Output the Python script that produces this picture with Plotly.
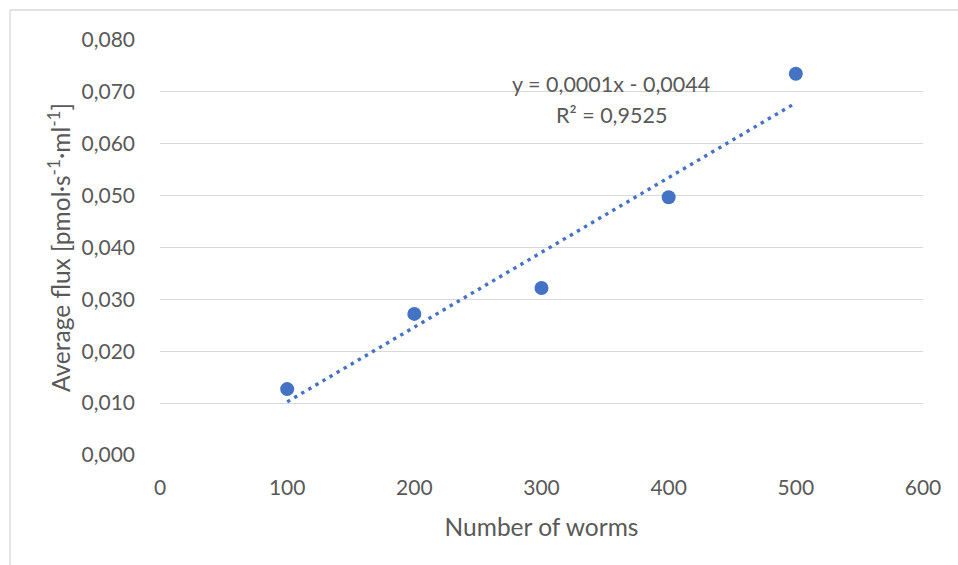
import numpy as np
import plotly.graph_objects as go

# Data
worms = [100, 200, 300, 400, 500]
flux = [0.0127, 0.0272, 0.0322, 0.0497, 0.0735]
x_ticks = [0, 100, 200, 300, 400, 500, 600]
y_ticks = [0.0, 0.01, 0.02, 0.03, 0.04, 0.05, 0.06, 0.07, 0.08]
eq_text = "y = 0,0001x - 0,0044"
r2_text = "R² = 0,9525"

BLUE = "#4472C4"
GREY = "#595959"
GRID = "#D9D9D9"
FONT = "Lato, Open Sans, sans-serif"

slope, intercept = np.polyfit(worms, flux, 1)
trend_x = [min(worms), max(worms)]
trend_y = [slope * v + intercept for v in trend_x]

fig = go.Figure()
fig.add_trace(go.Scatter(
    x=trend_x, y=trend_y, mode="lines",
    line=dict(color=BLUE, width=3.4, dash="3.4px,4.8px"),
    showlegend=False, hoverinfo="skip"))
fig.add_trace(go.Scatter(
    x=worms, y=flux, mode="markers",
    marker=dict(color=BLUE, size=14, line=dict(width=0)),
    showlegend=False))

fig.add_annotation(
    x=355, y=0.0716, xref="x", yref="y",
    text=eq_text, showarrow=False,
    font=dict(family=FONT, size=21.5, color=GREY))
fig.add_annotation(
    x=355, y=0.0655, xref="x", yref="y",
    text=r2_text, showarrow=False,
    font=dict(family=FONT, size=21.5, color=GREY))

W, H = 958, 565
L, R, T, B = 160, 35, 40, 110
pw, ph = W - L - R, H - T - B

def px_x(p):
    return (p - L) / pw

def px_y(p):
    return (H - B - p) / ph

# outer chart frame (partially visible)
fig.add_shape(type="line", xref="paper", yref="paper",
              x0=px_x(10), y0=px_y(10), x1=px_x(960), y1=px_y(10),
              line=dict(color=GRID, width=1.3))
fig.add_shape(type="line", xref="paper", yref="paper",
              x0=px_x(10), y0=px_y(10), x1=px_x(10), y1=px_y(570),
              line=dict(color=GRID, width=1.3))

fig.update_layout(
    width=W, height=H,
    margin=dict(l=L, r=R, t=T, b=B, autoexpand=False),
    paper_bgcolor="white", plot_bgcolor="white",
    separators=",.",
    font=dict(family=FONT, size=21, color=GREY),
    xaxis=dict(
        range=[0, 600], tickvals=x_ticks, showgrid=False, zeroline=False,
        showline=False, ticks="", ticklabelstandoff=18,
        tickfont=dict(family=FONT, size=21, color=GREY),
        title=dict(text="Number of worms", standoff=20,
                   font=dict(family=FONT, size=24.5, color=GREY)),
        automargin=False),
    yaxis=dict(
        range=[0, 0.08], tickvals=y_ticks, tickformat=".3f",
        showgrid=True, gridcolor=GRID, gridwidth=1.3, zeroline=False,
        showline=False, ticks="", ticklabelstandoff=24,
        tickfont=dict(family=FONT, size=21, color=GREY),
        title=dict(text="Average flux [pmol·s<sup>-1</sup>·ml<sup>-1</sup>]",
                   standoff=3,
                   font=dict(family=FONT, size=24.5, color=GREY)),
        automargin=False),
)

fig.write_html("out.html", config={"displayModeBar": False},
               post_script="document.body.style.margin='0';")
